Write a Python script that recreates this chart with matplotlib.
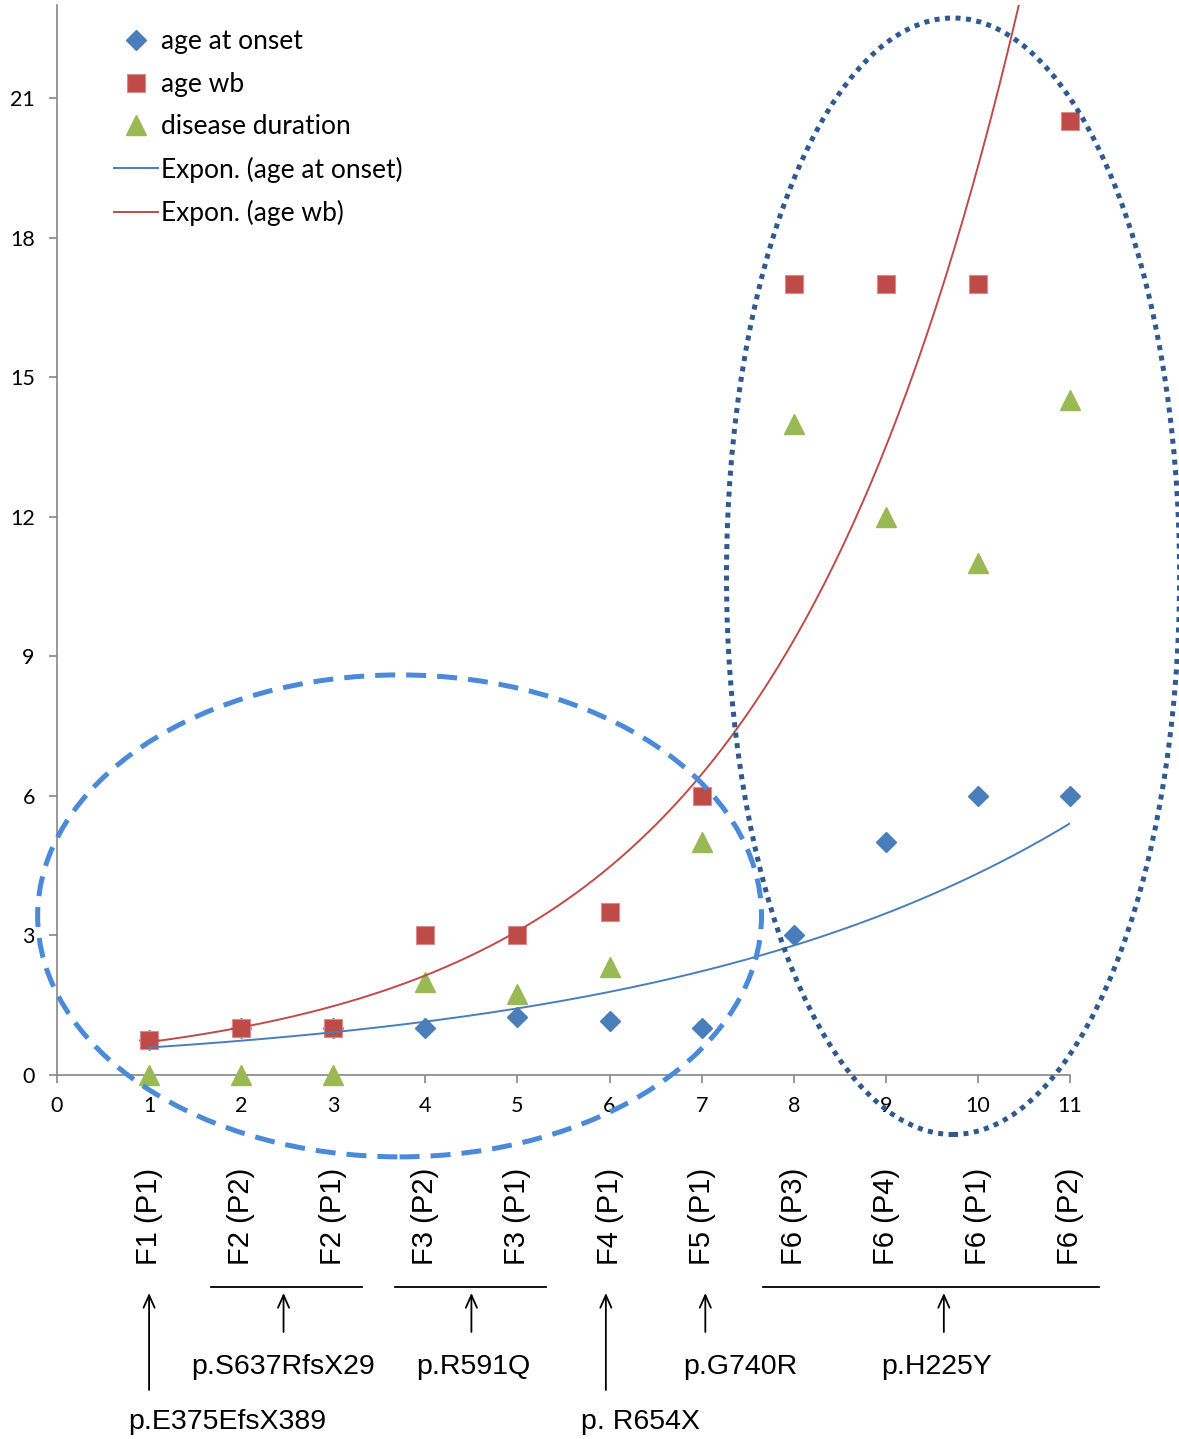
import numpy as np
import matplotlib.pyplot as plt
from matplotlib.patches import Ellipse

# patient index along x
x = np.arange(1, 12)
age_onset = [0.75, 1, 1, 1, 1.25, 1.17, 1, 3, 5, 6, 6]
age_wb = [0.75, 1, 1, 3, 3, 3.5, 6, 17, 17, 17, 20.5]
duration = [0, 0, 0, 2, 1.75, 2.33, 5, 14, 12, 11, 14.5]

patients = ["F1 (P1)", "F2 (P2)", "F2 (P1)", "F3 (P2)", "F3 (P1)", "F4 (P1)",
            "F5 (P1)", "F6 (P3)", "F6 (P4)", "F6 (P1)", "F6 (P2)"]

# mutation groups: label, member x positions, label row
mutations = ["p.E375EfsX389", "p.S637RfsX29", "p.R591Q", "p. R654X", "p.G740R", "p.H225Y"]
members = [[1], [2, 3], [4, 5], [6], [7], [8, 9, 10, 11]]
label_row = [2, 1, 1, 2, 1, 1]

BLUE = "#4a7ebb"
RED = "#be4b48"
GREEN = "#98b954"
AXC = "#868686"

W, H = 1179, 1439
fig = plt.figure(figsize=(W / 100, H / 100), dpi=100)
# axes placed in pixel terms: x 0..11 -> 57..1070, y 0..23 -> 1075..5
ax = fig.add_axes([57 / W, (H - 1075) / H, (1070 - 57) / W, (1075 - 5) / H])
ax.set_xlim(0, 11)
ax.set_ylim(0, 23)


def fy(py):
    # figure pixel row -> axes fraction
    return (1075 - py) / 1070


def exp_fit(xs, ys):
    b, a = np.polyfit(xs, np.log(ys), 1)
    return lambda t: np.exp(a + b * t)


xx = np.linspace(1, 11, 200)
f_on = exp_fit(x, age_onset)
f_wb = exp_fit(x, age_wb)

ax.plot(x, age_onset, "D", color=BLUE, ms=10, mec=BLUE, label="age at onset", zorder=3,
        clip_on=False)
ax.plot(x, age_wb, "s", color=RED, ms=13, mec="#d98c8a", mew=0.8, label="age wb", zorder=3,
        clip_on=False)
ax.plot(x, duration, "^", color=GREEN, ms=14, mec=GREEN, label="disease duration", zorder=3,
        clip_on=False)
ax.plot(xx, f_on(xx), color=BLUE, lw=1.4, label="Expon. (age at onset)", zorder=4)
ax.plot(xx, f_wb(xx), color=RED, lw=1.4, label="Expon. (age wb)", zorder=4)

# group ellipses
ax.add_patch(Ellipse((3.72, 3.42), 7.86, 10.36, fill=False, ec="#4a8ad8", lw=3.6,
                     ls=(0, (4, 2.2)), clip_on=False, zorder=5))
ax.add_patch(Ellipse((9.73, 10.72), 4.92, 24.0, fill=False, ec="#2e5a8f", lw=3.6,
                     ls=(0, (1, 1.1)), clip_on=False, zorder=5))

for s in ["top", "right"]:
    ax.spines[s].set_visible(False)
for s in ["left", "bottom"]:
    ax.spines[s].set_color(AXC)
    ax.spines[s].set_linewidth(1.2)
ax.set_xticks(range(0, 12))
ax.set_yticks(range(0, 22, 3))
ax.tick_params(colors=AXC, labelcolor="black", labelsize=15.5, length=6, width=1.2,
               labelfontfamily="Lato")
ax.tick_params(axis="x", pad=9)
ax.tick_params(axis="y", pad=10)

leg = ax.legend(loc="upper left", bbox_to_anchor=(36 / 1013, 0.997), frameon=False,
                prop={"family": "Lato", "size": 19}, handlelength=1.65, handletextpad=0.12,
                labelspacing=0.66, borderaxespad=0.4)

# patient labels under the axis
tr = ax.get_xaxis_transform()
for xi, name in zip(x, patients):
    ax.text(xi, fy(1265), name, rotation=90, ha="center", va="bottom", fontsize=21,
            family="Liberation Sans", transform=tr, clip_on=False)

# mutation groups with bars and arrows
arrow_shift = [0, -0.04, 0, -0.04, 0.04, 0.13]
text_shift = [0.85, 0, 0.02, 0.38, 0.38, -0.08]
for lab, mem, row, da, dt in zip(mutations, members, label_row, arrow_shift, text_shift):
    mid = np.mean(mem) + da
    if len(mem) > 1:
        ax.plot([mem[0] - 0.33, mem[-1] + 0.31], [fy(1287)] * 2, color="black", lw=1.3,
                transform=tr, clip_on=False)
    tail = 1390 if row == 2 else 1332
    ax.annotate("", xy=(mid, fy(1293)), xytext=(mid, fy(tail)),
                xycoords=tr, textcoords=tr,
                arrowprops=dict(arrowstyle="->,head_length=0.9,head_width=0.4",
                                color="black", lw=1.3, shrinkA=0, shrinkB=0))
    ty = 1367 if row == 1 else 1422
    ax.text(mid + dt, fy(ty), lab, ha="center", va="center", fontsize=20.5,
            family="Liberation Sans", transform=tr, clip_on=False)

fig.savefig("out.png", dpi=100)
